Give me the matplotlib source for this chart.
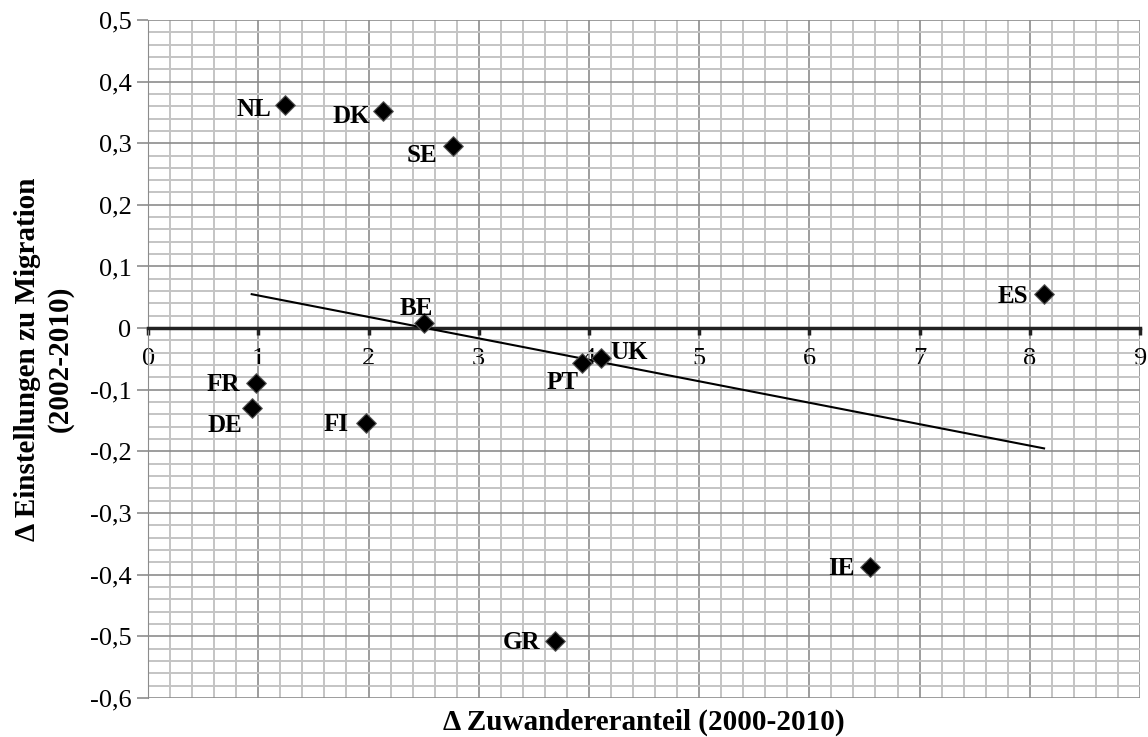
import numpy as np
import matplotlib.pyplot as plt
from matplotlib.ticker import MultipleLocator, FuncFormatter

plt.rcParams['font.family'] = ['Liberation Serif', 'DejaVu Serif']

# Data
countries = ['NL', 'DK', 'SE', 'ES', 'BE', 'PT', 'UK', 'FR', 'DE', 'FI', 'GR', 'IE']
zuwanderer = [1.24, 2.13, 2.77, 8.13, 2.50, 3.94, 4.11, 0.98, 0.94, 1.98, 3.69, 6.55]
einstellung = [0.362, 0.352, 0.295, 0.055, 0.008, -0.057, -0.049, -0.089, -0.130, -0.154, -0.508, -0.388]

# label placement: (dx px, dy px, ha) relative to the marker, dy positive = down
offsets = {
    'NL': (-13, 5, 'right'), 'DK': (-13, 5, 'right'), 'SE': (-16, 9, 'right'),
    'ES': (-16, 2, 'right'), 'BE': (9, -15, 'right'), 'PT': (-4, 19, 'right'),
    'UK': (9, -6, 'left'), 'FR': (-16, 2, 'right'), 'DE': (-9, 17, 'right'),
    'FI': (-18, 1, 'right'), 'GR': (-15, 1, 'right'), 'IE': (-15, 1, 'right'),
}

fig = plt.figure(figsize=(11.48, 7.37), dpi=100)
ax = fig.add_axes([0.129, 0.053, 0.864, 0.920])

ax.set_xlim(0, 9)
ax.set_ylim(-0.6, 0.5)

ax.xaxis.set_major_locator(MultipleLocator(1))
ax.xaxis.set_minor_locator(MultipleLocator(0.2))
ax.yaxis.set_major_locator(MultipleLocator(0.1))
ax.yaxis.set_minor_locator(MultipleLocator(0.02))
ax.grid(which='minor', color='#c4c4c4', linewidth=1.4)
ax.grid(which='major', color='#8c8c8c', linewidth=1.2)
ax.set_axisbelow(True)

ax.spines['top'].set_visible(False)
ax.spines['right'].set_visible(False)
ax.spines['left'].set_color('#8c8c8c')
ax.spines['bottom'].set_position(('data', 0))
ax.spines['bottom'].set_linewidth(2.5)
ax.spines['bottom'].set_color('#222222')

ax.tick_params(axis='x', which='major', direction='out', length=5, width=2.5,
               color='#222222', labelsize=19, pad=9)
ax.tick_params(axis='y', which='major', direction='out', length=8, width=1.2,
               color='#8c8c8c', labelsize=19, pad=4)
ax.tick_params(which='minor', length=0)


def fmt_y(v, p):
    if abs(v) < 1e-9:
        return '0'
    return f'{v:.1f}'.replace('.', ',')


ax.yaxis.set_major_formatter(FuncFormatter(fmt_y))
ax.xaxis.set_major_formatter(FuncFormatter(lambda v, p: f'{v:.0f}'))

ax.scatter(zuwanderer, einstellung, marker='D', s=100, color='black',
           edgecolor='#555555', linewidth=0.8, zorder=4)

# linear trend line
k, d = np.polyfit(zuwanderer, einstellung, 1)
xs = np.array([min(zuwanderer), max(zuwanderer)])
ax.plot(xs, k * xs + d, color='black', linewidth=1.5, zorder=3)

for c, x, y in zip(countries, zuwanderer, einstellung):
    dx, dy, ha = offsets[c]
    ax.annotate(c, (x, y), xytext=(dx * 0.72, -dy * 0.72), textcoords='offset points',
                ha=ha, va='center', fontsize=18, fontweight='bold', zorder=5)

ax.set_xlabel('Δ Zuwandereranteil (2000-2010)', fontsize=21, fontweight='bold',
              va='center')
ax.xaxis.set_label_coords(0.5, -0.036)
ax.set_ylabel('Δ Einstellungen zu Migration\n(2002-2010)', fontsize=21,
              fontweight='bold', linespacing=1.25, va='center')
ax.yaxis.set_label_coords(-0.105, 0.5)

fig.savefig('out.png', dpi=100)
